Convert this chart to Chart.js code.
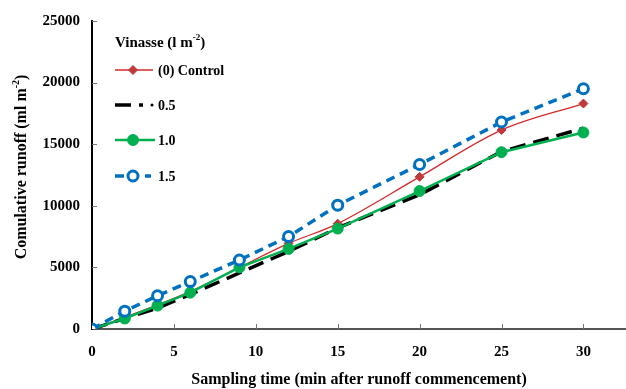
<!DOCTYPE html>
<html>
<head>
<meta charset="utf-8">
<script src="https://cdn.jsdelivr.net/npm/chart.js@4/dist/chart.umd.min.js"></script>
<style>
  html, body { margin: 0; padding: 0; background: #fff; }
  #wrap { width: 626px; height: 389px; position: relative; }
</style>
</head>
<body>
<div id="wrap"><canvas id="runoffChart"></canvas></div>
<script>
// sampling times (min after runoff commencement)
const times = [0, 2, 4, 6, 9, 12, 15, 20, 25, 30];

// cumulative runoff (ml m-2) per vinasse dose
const control = [0, 950, 1950, 3050, 5000, 6950, 8550, 12350, 16150, 18300];
const dose05 = [0, 850, 1700, 2800, 4550, 6300, 8200, 10900, 14400, 16300];
const dose10 = [0, 850, 1900, 2950, 5000, 6500, 8150, 11200, 14350, 15950];
const dose15 = [0, 1450, 2700, 3850, 5600, 7500, 10050, 13350, 16800, 19500];

const seriesLabels = ['(0) Control', '0.5', '1.0', '1.5'];
const yTicks = [0, 5000, 10000, 15000, 20000, 25000];
const xTicks = [0, 5, 10, 15, 20, 25, 30];

const serif = "'Liberation Serif', 'Times New Roman', serif";

function toPoints(values) {
    return times.map((t, i) => ({ x: t, y: values[i] }));
}

// draws "base" + raised small "sup" + "tail", returns total width
function drawSupText(ctx, base, sup, tail, x, y, size, measureOnly) {
    ctx.font = 'bold ' + size + 'px ' + serif;
    const w1 = ctx.measureText(base).width;
    const w3 = ctx.measureText(tail).width;
    ctx.font = 'bold ' + Math.round(size * 0.62) + 'px ' + serif;
    const w2 = ctx.measureText(sup).width;
    if (!measureOnly) {
        ctx.font = 'bold ' + size + 'px ' + serif;
        ctx.fillText(base, x, y);
        ctx.font = 'bold ' + Math.round(size * 0.62) + 'px ' + serif;
        ctx.fillText(sup, x + w1, y - size * 0.35);
        ctx.font = 'bold ' + size + 'px ' + serif;
        ctx.fillText(tail, x + w1 + w2, y);
    }
    return w1 + w2 + w3;
}

// small tick marks on the inside of both axes + y axis title
const axisExtras = {
    id: 'axisExtras',
    afterDraw(chart) {
        const { ctx, scales: { x, y } } = chart;
        ctx.save();
        ctx.strokeStyle = '#777';
        ctx.lineWidth = 1;
        xTicks.forEach(v => {
            if (v === 0) return;
            const px = Math.round(x.getPixelForValue(v)) + 0.5;
            ctx.beginPath();
            ctx.moveTo(px, y.bottom);
            ctx.lineTo(px, y.bottom - 5);
            ctx.stroke();
        });
        yTicks.forEach(v => {
            if (v === 0) return;
            const py = Math.round(y.getPixelForValue(v)) + 0.5;
            ctx.beginPath();
            ctx.moveTo(x.left, py);
            ctx.lineTo(x.left + 5, py);
            ctx.stroke();
        });

        // rotated y title with superscript
        ctx.fillStyle = '#000';
        ctx.textBaseline = 'middle';
        ctx.textAlign = 'left';
        const size = 16;
        const w = drawSupText(ctx, 'Comulative runoff (ml m', '-2', ')', 0, 0, size, true);
        ctx.translate(22, (y.top + y.bottom) / 2 - 8);
        ctx.rotate(-Math.PI / 2);
        drawSupText(ctx, 'Comulative runoff (ml m', '-2', ')', -w / 2, 0, size, false);
        ctx.restore();
    }
};

// legend in the upper-left of the plot, line sample plus marker
const insideLegend = {
    id: 'insideLegend',
    afterDraw(chart) {
        const ctx = chart.ctx;
        const left = chart.chartArea.left + 23;
        ctx.save();
        ctx.fillStyle = '#000';
        ctx.textBaseline = 'middle';
        drawSupText(ctx, 'Vinasse (l m', '-2', ')', left, 43, 15, false);

        const rows = [70, 105, 140, 176];
        const sampleEnd = [left + 38, left + 28, left + 40, left + 36];
        chart.data.datasets.forEach((ds, i) => {
            const yy = rows[i];
            ctx.save();
            ctx.strokeStyle = ds.borderColor;
            ctx.lineWidth = ds.borderWidth;
            ctx.setLineDash(ds.borderDash || []);
            ctx.beginPath();
            ctx.moveTo(left, yy);
            ctx.lineTo(sampleEnd[i], yy);
            ctx.stroke();
            ctx.setLineDash([]);
            if (ds.pointRadius > 0) {
                ctx.fillStyle = ds.pointBackgroundColor;
                ctx.strokeStyle = ds.pointBorderColor;
                ctx.lineWidth = ds.pointBorderWidth;
                Chart.helpers.drawPoint(ctx, {
                    pointStyle: ds.pointStyle,
                    radius: ds.pointRadius,
                    rotation: 0,
                    borderWidth: ds.pointBorderWidth
                }, left + 18, yy);
            }
            ctx.restore();
            ctx.font = 'bold 14px ' + serif;
            if (i === 1) {
                ctx.beginPath();
                ctx.arc(left + 37, yy, 1.5, 0, Math.PI * 2);
                ctx.fill();
            }
            ctx.fillText(seriesLabels[i], left + 43, yy + 1);
        });
        ctx.restore();
    }
};

new Chart(document.getElementById('runoffChart'), {
    type: 'line',
    data: {
        datasets: [
            {
                label: seriesLabels[0],
                data: toPoints(control),
                borderColor: '#D42A2A',
                borderWidth: 1.3,
                tension: 0.35,
                pointStyle: 'rectRot',
                pointRadius: 4.5,
                pointBackgroundColor: '#C0393B',
                pointBorderColor: '#C0393B',
                pointBorderWidth: 1,
                order: 3
            },
            {
                label: seriesLabels[1],
                data: toPoints(dose05),
                borderColor: '#000000',
                borderWidth: 3.5,
                borderDash: [16, 8],
                tension: 0,
                pointRadius: 0,
                order: 2
            },
            {
                label: seriesLabels[2],
                data: toPoints(dose10),
                borderColor: '#00B050',
                borderWidth: 2.5,
                tension: 0,
                pointStyle: 'circle',
                pointRadius: 5.5,
                pointBackgroundColor: '#00B050',
                pointBorderColor: '#00B050',
                pointBorderWidth: 1,
                order: 1
            },
            {
                label: seriesLabels[3],
                data: toPoints(dose15),
                borderColor: '#0070C0',
                borderWidth: 3.5,
                borderDash: [9, 6],
                tension: 0,
                pointStyle: 'circle',
                pointRadius: 5,
                pointBackgroundColor: '#ffffff',
                pointBorderColor: '#0070C0',
                pointBorderWidth: 3,
                order: 0
            }
        ]
    },
    options: {
        responsive: true,
        maintainAspectRatio: false,
        animation: false,
        layout: { autoPadding: false, padding: { top: 16, right: 0, left: 0, bottom: 0 } },
        plugins: {
            legend: { display: false },
            tooltip: { enabled: false }
        },
        scales: {
            x: {
                type: 'linear',
                min: 0,
                max: 32.6,
                afterFit(scale) { scale.height = 60; },
                grid: { drawOnChartArea: false, drawTicks: false },
                border: { color: '#555', width: 2 },
                ticks: {
                    stepSize: 5,
                    includeBounds: false,
                    padding: 14,
                    color: '#000',
                    font: { family: serif, size: 15, weight: 'bold' }
                },
                title: {
                    display: true,
                    text: 'Sampling time (min after runoff commencement)',
                    color: '#000',
                    font: { family: serif, size: 16, weight: 'bold' },
                    padding: { top: 8, bottom: 0 }
                }
            },
            y: {
                min: 0,
                max: 25000,
                afterFit(scale) { scale.width = 92; },
                grid: { drawOnChartArea: false, drawTicks: false },
                border: { color: '#000', width: 2 },
                ticks: {
                    stepSize: 5000,
                    padding: 12,
                    color: '#000',
                    font: { family: serif, size: 15, weight: 'bold' },
                    callback: v => String(v)
                }
            }
        }
    },
    plugins: [axisExtras, insideLegend]
});
</script>
</body>
</html>
